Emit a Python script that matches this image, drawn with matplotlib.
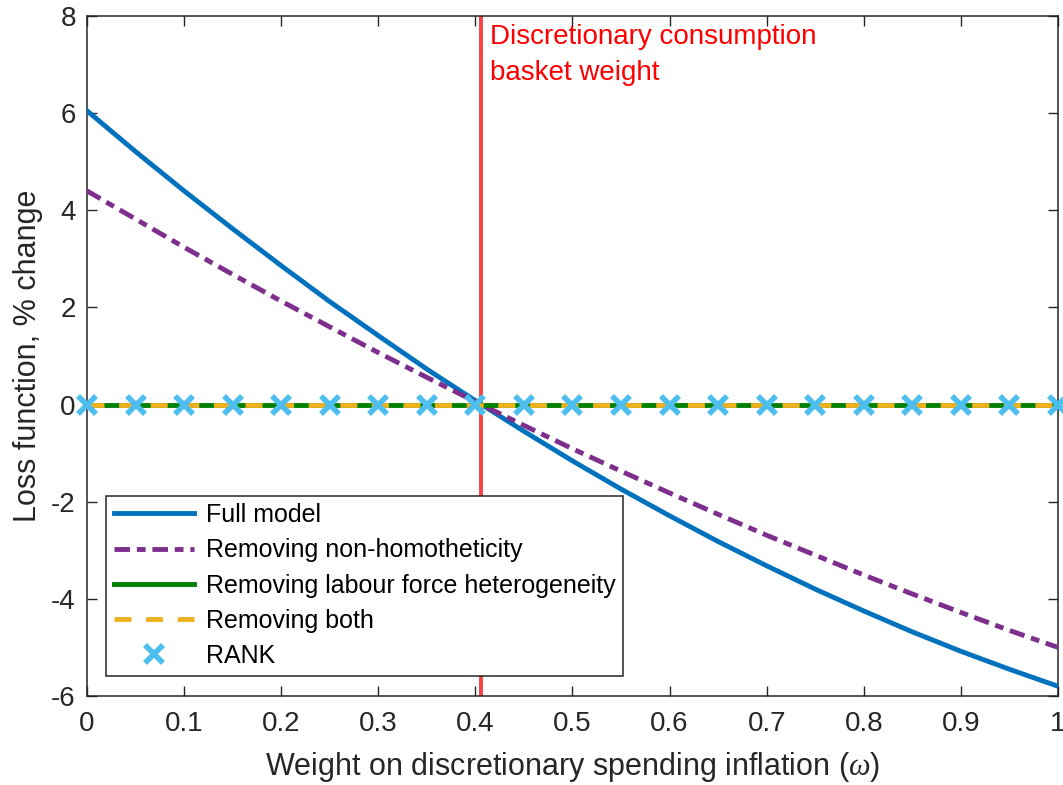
import numpy as np
import matplotlib
matplotlib.use("Agg")
import matplotlib.pyplot as plt
from matplotlib.ticker import FuncFormatter

# weight on discretionary spending inflation
omega = [0.00, 0.05, 0.10, 0.15, 0.20, 0.25, 0.30, 0.35, 0.40, 0.45, 0.50,
         0.55, 0.60, 0.65, 0.70, 0.75, 0.80, 0.85, 0.90, 0.95, 1.00]

# loss function, % change
full_model = [6.05, 5.21, 4.40, 3.62, 2.86, 2.12, 1.42, 0.73, 0.08, -0.55, -1.16,
              -1.74, -2.29, -2.82, -3.32, -3.80, -4.25, -4.68, -5.08, -5.45, -5.80]
no_nonhomothetic = [4.40, 3.82, 3.24, 2.68, 2.13, 1.60, 1.07, 0.56, 0.06, -0.43, -0.91,
                    -1.37, -1.82, -2.26, -2.69, -3.10, -3.51, -3.90, -4.28, -4.65, -5.00]
no_labour_het = [0.0] * 21
no_both = [0.0] * 21
rank = [0.0] * 21

basket_weight = 0.406

plt.rcParams['font.family'] = ['Liberation Sans', 'DejaVu Sans']
plt.rcParams['mathtext.fontset'] = 'custom'
plt.rcParams['mathtext.it'] = 'Liberation Serif:italic'
plt.rcParams['axes.unicode_minus'] = False

fig = plt.figure(figsize=(10.63, 7.85), dpi=100)
ax = fig.add_axes([0.0818, 0.1134, 0.9135, 0.8662])

ax.axvline(basket_weight, color='#ff4040', lw=2.8, zorder=1)
ax.plot(omega, full_model, color='#0072BD', lw=3.5, label='Full model', zorder=3)
ax.plot(omega, no_nonhomothetic, color='#7E2F8E', lw=3.5, dashes=(3.2, 1.4, 1.8, 1.4),
        label='Removing non-homotheticity', zorder=3)
ax.plot(omega, no_labour_het, color='#008000', lw=3.5,
        label='Removing labour force heterogeneity', zorder=4)
ax.plot(omega, no_both, color='#EDB120', lw=3.5, dashes=(3.5, 3.0),
        label='Removing both', zorder=5)
ax.plot(omega, rank, ls='none', marker='x', ms=13, mew=4, color='#4DBEEE',
        label='RANK', zorder=6, clip_on=False)

ax.text(basket_weight + 0.009, 7.83, 'Discretionary consumption\nbasket weight',
        color='red', fontsize=20, va='top', ha='left', linespacing=1.5)

ax.set_xlim(0, 1)
ax.set_ylim(-6, 8)
ax.set_xticks(np.arange(0, 1.01, 0.1))
ax.set_yticks(np.arange(-6, 9, 2))
ax.xaxis.set_major_formatter(FuncFormatter(lambda v, p: ('%g' % round(v, 2))))
ax.tick_params(direction='in', top=True, right=True, length=7, width=1,
               labelsize=20, colors='#262626', pad=8)
ax.tick_params(axis='x', pad=11)
for s in ax.spines.values():
    s.set_color('#262626')
    s.set_linewidth(1.1)

ax.set_xlabel('Weight on discretionary spending inflation ($\\omega$)', fontsize=22,
              color='#262626', labelpad=9)
ax.set_ylabel('Loss function, % change', fontsize=22, color='#262626', labelpad=6)

leg = ax.legend(loc='lower left', bbox_to_anchor=(0.02, 0.03), fontsize=18,
                frameon=True, fancybox=False, edgecolor='#262626', framealpha=1,
                handlelength=3.2, handletextpad=0.5, borderpad=0.3, labelspacing=0.45,
                borderaxespad=0)
leg.get_frame().set_linewidth(1.1)

fig.savefig('out.png', dpi=100)
